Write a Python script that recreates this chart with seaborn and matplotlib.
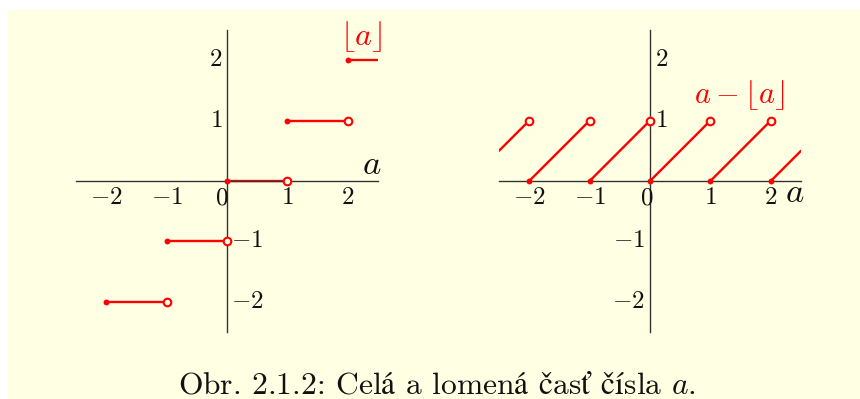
import matplotlib
matplotlib.use('Agg')
import matplotlib.pyplot as plt
import seaborn as sns
import pandas as pd

# floor(a): one segment per integer step
floor_start = [-2, -1, 0, 1, 2]
floor_end = [-1, 0, 1, 2, 2.5]
floor_val = [-2, -1, 0, 1, 2]
floor_open_x = [-1, 0, 1, 2]
floor_open_y = [-2, -1, 0, 1]

# a - floor(a): sawtooth segments
frac_start = [-2.5, -2, -1, 0, 1, 2]
frac_end = [-2, -1, 0, 1, 2, 2.5]
frac_y0 = [0.5, 0, 0, 0, 0, 0]
frac_y1 = [1, 1, 1, 1, 1, 0.5]
frac_closed_x = [-2, -1, 0, 1, 2]
frac_closed_y = [0, 0, 0, 0, 0]
frac_open_x = [-2, -1, 0, 1, 2]
frac_open_y = [1, 1, 1, 1, 1]

ticks = [-2, -1, 0, 1, 2]
# accented letters go through mathtext so they fall back to STIX glyphs
caption = (r'Obr. 2.1.2: Cel$\mathrm{á}$ a lomen$\mathrm{á}$ '
           r'$\mathrm{č}$as$\mathrm{ť}$ $\mathrm{čí}$sla $a$.')

sns.set_style('white')
plt.rcParams['mathtext.fontset'] = 'cm'
plt.rcParams['font.family'] = ['cmr10', 'DejaVu Serif']
plt.rcParams['axes.unicode_minus'] = False

BG = '#FFFFE3'
RED = '#FF0000'
AX = '#333333'

floor_df = pd.DataFrame({
    'a': floor_start + floor_end,
    'y': floor_val + floor_val,
    'seg': list(range(len(floor_start))) * 2,
})
frac_df = pd.DataFrame({
    'a': frac_start + frac_end,
    'y': frac_y0 + frac_y1,
    'seg': list(range(len(frac_start))) * 2,
})

fig = plt.figure(figsize=(8.6, 3.99), dpi=100, facecolor='white')
fig.patches.append(plt.Rectangle((8 / 860, 0), 1, 1 - 10 / 399, transform=fig.transFigure,
                                 facecolor=BG, edgecolor='none', zorder=-10))

ax1 = fig.add_axes([76 / 860, 67 / 399, 302 / 860, 302 / 399])
ax2 = fig.add_axes([499 / 860, 67 / 399, 302 / 860, 302 / 399])


def style_axes(ax):
    ax.set_facecolor('none')
    ax.set_xlim(-2.5, 2.5)
    ax.set_ylim(-2.5, 2.5)
    for s in ['top', 'right']:
        ax.spines[s].set_visible(False)
    for s in ['left', 'bottom']:
        ax.spines[s].set_position('zero')
        ax.spines[s].set_color(AX)
        ax.spines[s].set_linewidth(1.0)
    ax.set_xticks(ticks)
    ax.set_yticks([t for t in ticks if t != 0])
    ax.tick_params(direction='inout', length=6, width=0.9, color=AX,
                   labelbottom=False, labelleft=False)
    ax.set_xlabel('')
    ax.set_ylabel('')


lab = dict(fontsize=18, color='#111111')

# left: floor
sns.lineplot(data=floor_df, x='a', y='y', units='seg', estimator=None,
             color=RED, linewidth=1.7, ax=ax1, legend=False)
sns.scatterplot(x=floor_start, y=floor_val, color=RED, s=18, linewidth=0,
                ax=ax1, zorder=5)
sns.scatterplot(x=floor_open_x, y=floor_open_y, facecolor=BG, edgecolor=RED,
                s=30, linewidth=1.5, ax=ax1, zorder=5)
style_axes(ax1)
for t in ticks:
    if t == 0:
        ax1.text(-0.09, -0.1, '$0$', ha='center', va='top', **lab)
    else:
        ax1.text(t, -0.1, f'${t}$', ha='center', va='top', **lab)
for t in [2, 1]:
    ax1.text(-0.08, t, f'${t}$', ha='right', va='center', **lab)
for t in [-1, -2]:
    ax1.text(0.07, t, f'${t}$', ha='left', va='center', **lab)
ax1.text(2.39, 0.0, '$a$', fontsize=25, color='#111111', ha='center', va='bottom')
ax1.text(2.22, 2.11, r'$\lfloor a\rfloor$', fontsize=23, color=RED, ha='center', va='bottom')

# right: fractional part
sns.lineplot(data=frac_df, x='a', y='y', units='seg', estimator=None,
             color=RED, linewidth=1.7, ax=ax2, legend=False)
sns.scatterplot(x=frac_closed_x, y=frac_closed_y, color=RED, s=18, linewidth=0,
                ax=ax2, zorder=5)
sns.scatterplot(x=frac_open_x, y=frac_open_y, facecolor=BG, edgecolor=RED,
                s=30, linewidth=1.5, ax=ax2, zorder=5)
style_axes(ax2)
for t in ticks:
    if t == 0:
        ax2.text(-0.05, -0.1, '$0$', ha='center', va='top', **lab)
    else:
        ax2.text(t, -0.1, f'${t}$', ha='center', va='top', **lab)
for t in [2, 1]:
    ax2.text(0.08, t, f'${t}$', ha='left', va='center', **lab)
for t in [-1, -2]:
    ax2.text(-0.08, t, f'${t}$', ha='right', va='center', **lab)
ax2.text(2.4, 0.06, '$a$', fontsize=25, color='#111111', ha='center', va='top')
ax2.text(1.48, 1.15, r'$a - \lfloor a\rfloor$', fontsize=22, color=RED, ha='center', va='bottom')

fig.text(437 / 860, 5 / 399, caption, ha='center', va='baseline', fontsize=22.7,
         color='#111111')

fig.savefig('out.png', dpi=100, facecolor='white')
